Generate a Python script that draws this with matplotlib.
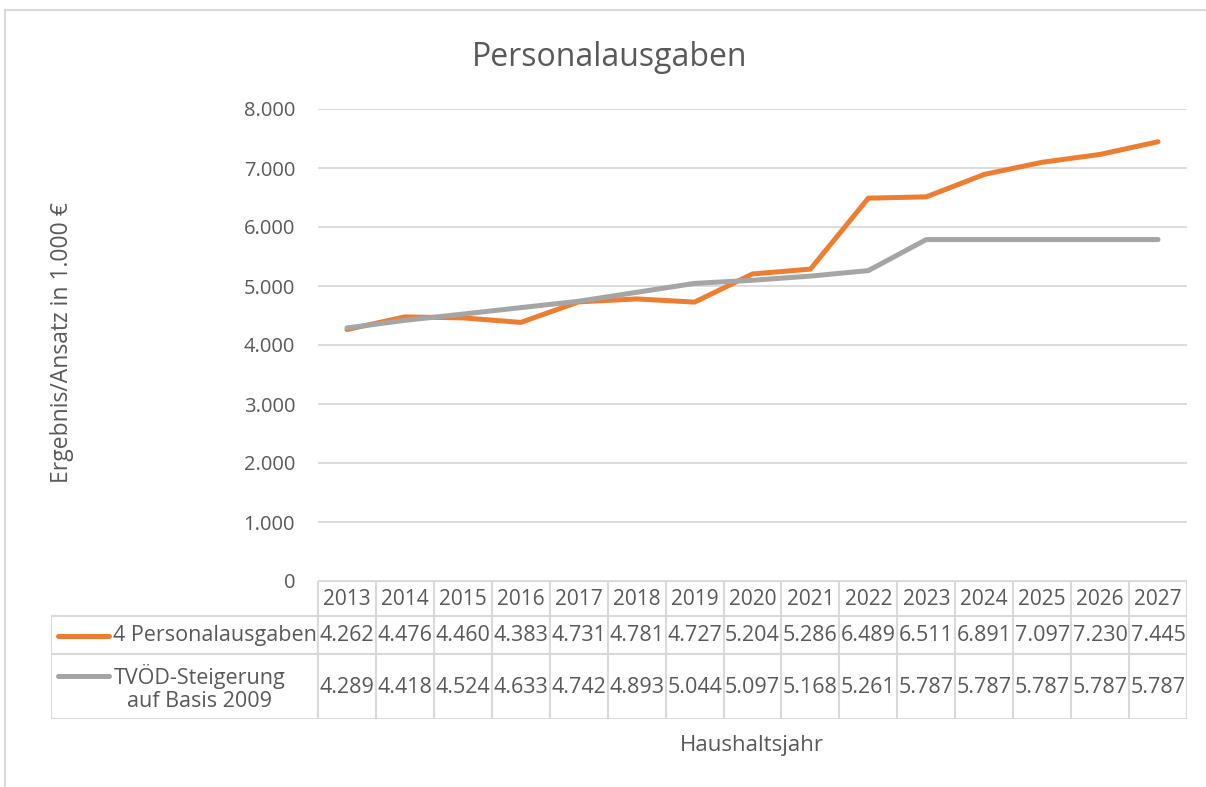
import matplotlib.pyplot as plt
from matplotlib.lines import Line2D

plt.rcParams['font.family'] = ['Open Sans', 'DejaVu Sans']

years = ['2013', '2014', '2015', '2016', '2017', '2018', '2019', '2020',
         '2021', '2022', '2023', '2024', '2025', '2026', '2027']
personal = [4262, 4476, 4460, 4383, 4731, 4781, 4727, 5204, 5286, 6489,
            6511, 6891, 7097, 7230, 7445]
tvoed = [4289, 4418, 4524, 4633, 4742, 4893, 5044, 5097, 5168, 5261,
         5787, 5787, 5787, 5787, 5787]
series_names = ['4 Personalausgaben', 'TVÖD-Steigerung\nauf Basis 2009']
yticks = [0, 1000, 2000, 3000, 4000, 5000, 6000, 7000, 8000]

W, H = 1206, 787
txt = '#595959'
grid = '#D9D9D9'
orange = '#ED7D31'
gray = '#A5A5A5'


def fmt(v):
    return f'{v:,}'.replace(',', '.')


fig = plt.figure(figsize=(W / 100, H / 100), dpi=100)

# outer chart frame (cropped on right/bottom)
fig.add_artist(Line2D([5 / W, 5 / W], [0, 1 - 10 / H], color=grid, lw=1.5))
fig.add_artist(Line2D([5 / W, 1], [1 - 10 / H, 1 - 10 / H], color=grid, lw=1.5))

# plot area
x0, x1 = 318, 1187
y_top, y_bot = 109, 581
ax = fig.add_axes([x0 / W, 1 - y_bot / H, (x1 - x0) / W, (y_bot - y_top) / H])
x = list(range(len(years)))
ax.plot(x, personal, color=orange, lw=3.6, solid_capstyle='round', solid_joinstyle='round', zorder=3)
ax.plot(x, tvoed, color=gray, lw=3.6, solid_capstyle='round', solid_joinstyle='round', zorder=4)
ax.set_xlim(-0.5, len(years) - 0.5)
ax.set_ylim(0, 8000)
ax.set_yticks(yticks)
ax.set_yticklabels([fmt(v) for v in yticks], fontsize=14.5, color=txt)
ax.set_xticks([])
ax.tick_params(axis='y', length=0, pad=16.5)
for v in yticks:
    ax.axhline(v, color=grid, lw=1.3, zorder=1)
for s in ax.spines.values():
    s.set_visible(False)

# data table below, sharing the category scale
unit = (x1 - x0) / len(years)
lab_left = 51
t_top, r1, r2, t_bot = 581, 616, 654, 719
tx = fig.add_axes([lab_left / W, 1 - t_bot / H, (x1 - lab_left) / W, (t_bot - t_top) / H])
tx.set_xlim(-0.5 - (x0 - lab_left) / unit, len(years) - 0.5)
tx.set_ylim(t_bot, t_top)
tx.axis('off')
lc = dict(color=grid, lw=1.5, solid_capstyle='projecting')
tx.plot([-0.5, len(years) - 0.5], [t_top, t_top], **lc)
for yy in (r1, r2, t_bot):
    tx.plot([-0.5 - (x0 - lab_left) / unit, len(years) - 0.5], [yy, yy], **lc)
for i in range(len(years) + 1):
    tx.plot([i - 0.5, i - 0.5], [t_top, t_bot], **lc)
tx.plot([-0.5 - (x0 - lab_left) / unit] * 2, [r1, t_bot], **lc)

fs = 15.5
for i, yr in enumerate(years):
    tx.text(i, (t_top + r1) / 2 + 1, yr, ha='center', va='center', fontsize=15, color=txt)
    tx.text(i, (r1 + r2) / 2 + 1, fmt(personal[i]), ha='center', va='center', fontsize=fs, color=txt)
    tx.text(i, (r2 + t_bot) / 2 + 1, fmt(tvoed[i]), ha='center', va='center', fontsize=fs, color=txt)


def px(xp):
    return -0.5 - (x0 - xp) / unit


tx.plot([px(58), px(109)], [636, 636], color=orange, lw=3.6, solid_capstyle='round')
tx.text(px(113), 636, series_names[0], ha='left', va='center', fontsize=fs, color=txt)
tx.plot([px(58), px(109)], [676, 676], color=gray, lw=3.6, solid_capstyle='round')
tx.text(px(200), 688, series_names[1], ha='center', va='center', fontsize=fs,
        color=txt, multialignment='center', linespacing=1.15)

fig.text(610 / W, 1 - 57 / H, 'Personalausgaben', ha='center', va='center', fontsize=23, color=txt)
fig.text(62 / W, 1 - 343 / H, 'Ergebnis/Ansatz in 1.000 €', ha='center', va='center',
         rotation=90, fontsize=16.5, color=txt)
fig.text(752 / W, 1 - 745 / H, 'Haushaltsjahr', ha='center', va='center', fontsize=16, color=txt)

fig.savefig('out.png', dpi=100, facecolor='white')
